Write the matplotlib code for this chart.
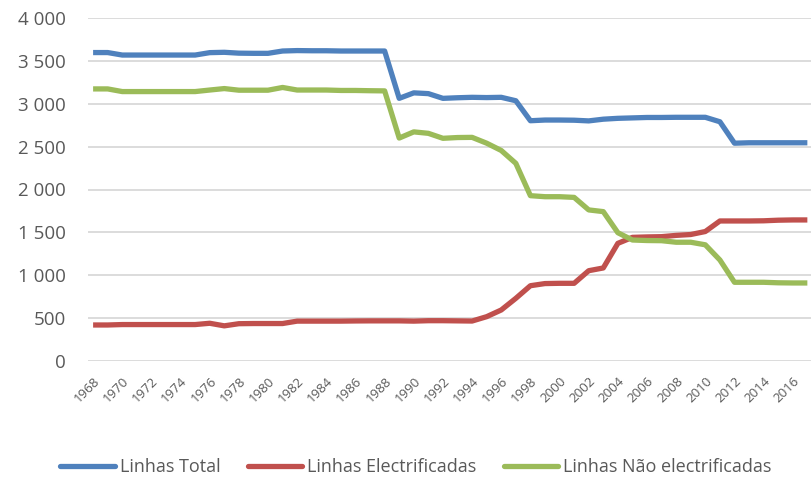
import matplotlib
matplotlib.use("Agg")
import matplotlib.pyplot as plt
from matplotlib.ticker import FuncFormatter
from matplotlib.transforms import ScaledTranslation

plt.rcParams['font.family'] = ['Open Sans', 'DejaVu Sans']

years = list(range(1968, 2018))

total = [3597, 3597, 3568, 3568, 3568, 3568, 3568, 3568, 3596, 3600,
         3590, 3588, 3588, 3615, 3620, 3618, 3618, 3615, 3615, 3615,
         3615, 3063, 3127, 3118, 3063, 3070, 3075, 3072, 3075, 3035,
         2802, 2810, 2810, 2808, 2800, 2820, 2830, 2835, 2840, 2840,
         2842, 2842, 2842, 2790, 2540, 2545, 2545, 2545, 2545, 2545]

electrified = [420, 420, 425, 425, 425, 425, 425, 425, 440, 410,
               435, 437, 437, 437, 465, 465, 465, 465, 467, 468,
               468, 468, 465, 470, 470, 468, 466, 517, 595, 731,
               878, 903, 906, 906, 1053, 1085, 1372, 1442, 1447, 1450,
               1465, 1475, 1510, 1633, 1633, 1633, 1635, 1642, 1645, 1645]

non_electrified = [3173, 3173, 3142, 3142, 3142, 3142, 3142, 3142, 3160, 3177,
                   3158, 3158, 3158, 3190, 3160, 3160, 3160, 3155, 3155, 3152,
                   3150, 2600, 2672, 2655, 2597, 2606, 2608, 2540, 2455, 2305,
                   1928, 1916, 1916, 1908, 1762, 1742, 1496, 1411, 1405, 1403,
                   1385, 1385, 1355, 1178, 918, 918, 918, 912, 910, 910]

series_names = ["Linhas Total", "Linhas Electrificadas", "Linhas Não electrificadas"]
colors = ["#4F81BD", "#C0504D", "#9BBB59"]

yticks = [0, 500, 1000, 1500, 2000, 2500, 3000, 3500, 4000]
xticks = list(range(1968, 2017, 2))

fig = plt.figure(figsize=(8.11, 4.78), dpi=100)
ax = fig.add_axes([88/811, 1 - 361/478, 1 - 88/811, (361 - 18)/478])

for vals, name, c in zip([total, electrified, non_electrified], series_names, colors):
    ax.plot(years, vals, color=c, lw=3.8, label=name, solid_capstyle='butt',
            solid_joinstyle='round', zorder=3)

ax.set_ylim(0, 4000)
ax.set_xlim(1967.65, 2017.25)
ax.set_yticks(yticks)
ax.yaxis.set_major_formatter(FuncFormatter(lambda v, p: f"{int(v):,}".replace(",", " ")))
ax.set_xticks(xticks)
ax.set_xticklabels([str(y) for y in xticks], rotation=45, ha='right',
                   rotation_mode='anchor', fontsize=9.5, color='#595959')
offset = ScaledTranslation(5/100, 0, fig.dpi_scale_trans)
for lbl in ax.get_xticklabels():
    lbl.set_transform(lbl.get_transform() + offset)
ax.tick_params(axis='y', labelsize=13.5, colors='#595959', length=0, pad=16)
ax.tick_params(axis='x', length=0, pad=10)
ax.grid(axis='y', color='#D9D9D9', lw=1.3, zorder=0)
ax.set_axisbelow(True)
for s in ax.spines.values():
    s.set_visible(False)

leg = fig.legend(loc='center', bbox_to_anchor=(0.513, 1 - 467/478), ncol=3,
                 frameon=False, fontsize=13, handlelength=3.0, handletextpad=0.3,
                 columnspacing=1.5, labelcolor='#595959')
for h in leg.get_lines():
    h.set_linewidth(3.8)
    h.set_solid_capstyle('round')

fig.savefig("out.png", dpi=100)
